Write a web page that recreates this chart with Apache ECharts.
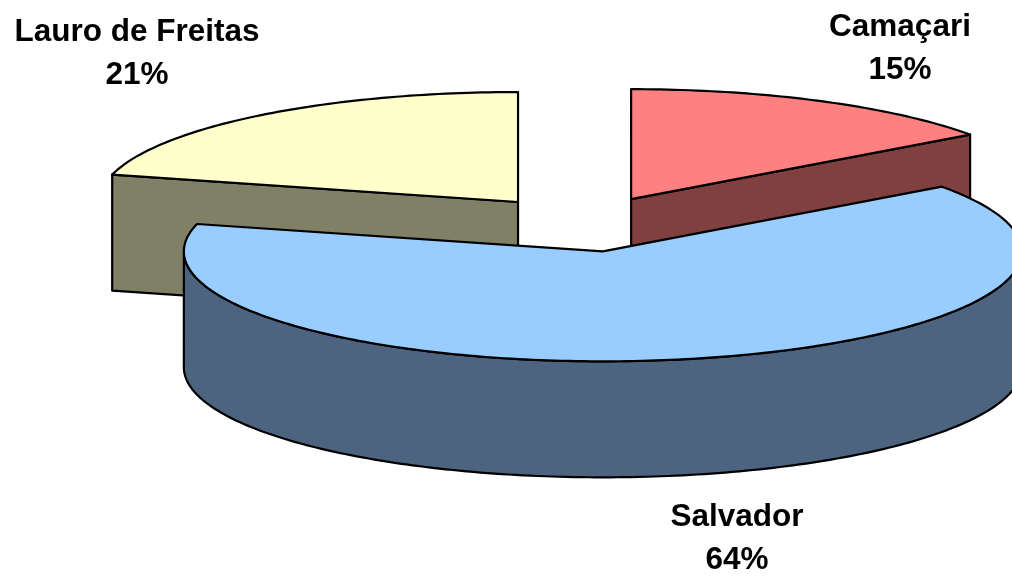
<!DOCTYPE html>
<html>
<head>
<meta charset="utf-8">
<script src="https://cdn.jsdelivr.net/npm/echarts@6/dist/echarts.min.js"></script>
<style>html,body{margin:0;padding:0;background:#fff;}#chart{width:1012px;height:579px;}</style>
</head>
<body>
<div id="chart"></div>
<script>
// ---- data ----
const categories = ['Camaçari', 'Salvador', 'Lauro de Freitas'];
const values = [15, 64, 21];

// ---- styles / layout (not data) ----
const topColors = ['#FF8080', '#99CCFF', '#FFFFCC'];
const sideColors = ['#804040', '#4C6480', '#808066'];
const labelPos = [[900, 49], [737, 539], [137, 54]];
const layout = { cx: 583, cy: 224, R: 419, r: 110, depth: 116, explode: 106, startAngle: 90 };

const total = values.reduce((a, b) => a + b, 0);
const rad = d => d * Math.PI / 180;

function arcPts(cx, cy, a, b, dy) {
  const pts = [];
  const n = Math.max(2, Math.ceil(Math.abs(b - a)));
  for (let i = 0; i <= n; i++) {
    const t = a + (b - a) * i / n;
    pts.push([cx + layout.R * Math.cos(rad(t)), cy - layout.r * Math.sin(rad(t)) + (dy || 0)]);
  }
  return pts;
}

function renderItem(params, api) {
  const idx = params.dataIndex;
  let before = 0;
  for (let i = 0; i < idx; i++) before += values[i];
  const v = api.value(0);
  const sStart = layout.startAngle - before / total * 360;
  const sEnd = sStart - v / total * 360;
  const a1 = sEnd, a2 = sStart;
  const mid = (a1 + a2) / 2;
  const k = layout.r / layout.R;
  const cx = layout.cx + layout.explode * Math.cos(rad(mid));
  const cy = layout.cy - layout.explode * k * Math.sin(rad(mid));
  const D = layout.depth;
  const base = 200 + Math.round(-Math.sin(rad(mid)) * 80);
  const stroke = '#000';
  const lw = 2.2;
  const children = [];
  // outer wall
  for (let m = -2; m <= 2; m++) {
    const lo = Math.max(a1, 180 + 360 * m), hi = Math.min(a2, 360 + 360 * m);
    if (hi > lo) {
      const topArc = arcPts(cx, cy, lo, hi, 0);
      const botArc = arcPts(cx, cy, hi, lo, D);
      children.push({ type: 'polygon', z2: base + 1, shape: { points: topArc.concat(botArc) },
        style: { fill: sideColors[idx], stroke: stroke, lineWidth: lw, lineJoin: 'round' } });
    }
  }
  // cut faces
  [[a1, a1 - 90], [a2, a2 + 90]].forEach(([a, nrm]) => {
    if (Math.sin(rad(nrm)) < -1e-6) {
      const ex = cx + layout.R * Math.cos(rad(a)), ey = cy - layout.r * Math.sin(rad(a));
      children.push({ type: 'polygon', z2: base + 2,
        shape: { points: [[cx, cy], [ex, ey], [ex, ey + D], [cx, cy + D]] },
        style: { fill: sideColors[idx], stroke: stroke, lineWidth: lw, lineJoin: 'round' } });
    }
  });
  // top
  children.push({ type: 'polygon', z2: base + 5,
    shape: { points: [[cx, cy]].concat(arcPts(cx, cy, a1, a2, 0)) },
    style: { fill: topColors[idx], stroke: stroke, lineWidth: lw, lineJoin: 'round' } });
  // label
  const pct = Math.round(v / total * 100) + '%';
  children.push({ type: 'text', z2: 1000,
    style: { text: categories[idx] + '\n' + pct, x: labelPos[idx][0], y: labelPos[idx][1],
      align: 'center', verticalAlign: 'middle', lineHeight: 43,
      fontFamily: '"Liberation Sans", Arial, sans-serif', fontWeight: 'bold', fontSize: 31.5, fill: '#000' } });
  return { type: 'group', children: children };
}

const chart = echarts.init(document.getElementById('chart'), null, { renderer: 'canvas' });
chart.setOption({
  animation: false,
  backgroundColor: '#ffffff',
  series: [{
    type: 'custom',
    coordinateSystem: 'none',
    renderItem: renderItem,
    data: values.map((v, i) => ({ name: categories[i], value: [v] }))
  }]
});
</script>
</body>
</html>
